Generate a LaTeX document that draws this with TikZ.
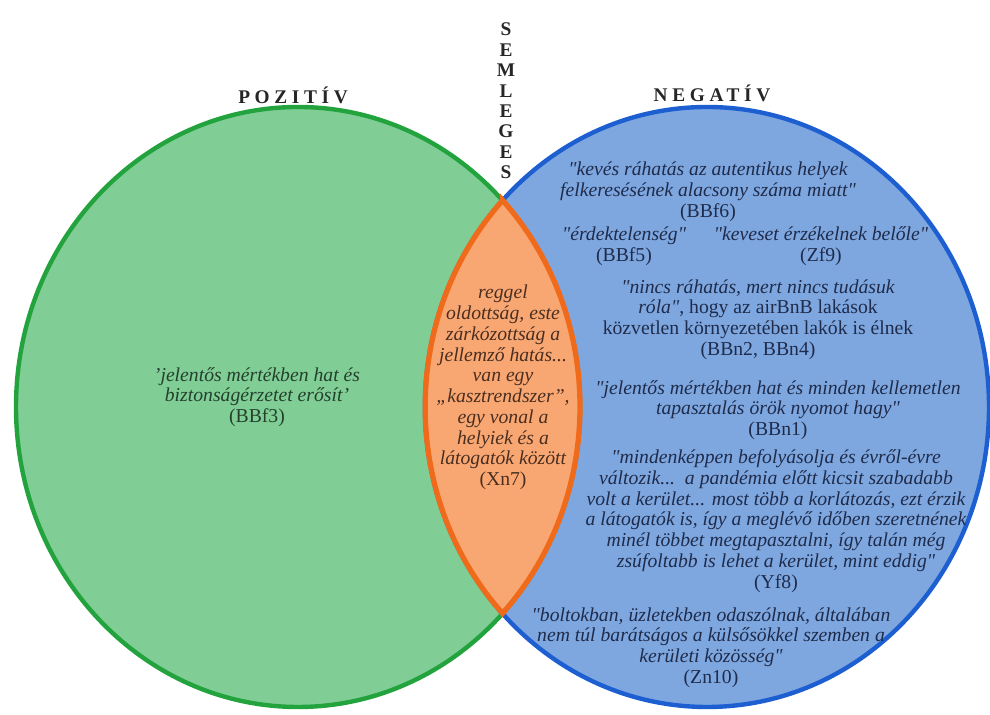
\documentclass[tikz,border=0pt]{standalone}
\usepackage{fontspec}
\setmainfont{Liberation Serif}
\newfontfamily\headfont[LetterSpace=24]{Liberation Serif}
\usetikzlibrary{positioning}

\definecolor{posfill}{HTML}{80CD95}
\definecolor{posline}{HTML}{22A33D}
\definecolor{negfill}{HTML}{7EA7E0}
\definecolor{negline}{HTML}{1D5FD1}
\definecolor{neufill}{HTML}{F9A772}
\definecolor{neuline}{HTML}{F06A1C}
\definecolor{postext}{HTML}{24402D}
\definecolor{negtext}{HTML}{1F2B4A}
\definecolor{neutext}{HTML}{4A2E20}

\newcommand{\qd}{\textquotedbl}

\begin{document}
\begin{tikzpicture}
    [quote/.style={align=center,font=\fontsize{11.2}{11.8}\selectfont\itshape},
     head/.style={font=\headfont\bfseries\fontsize{11}{11.6}\selectfont,text=black!85},
     oval/.style={x radius=5.64,y radius=6}]

    \useasboundingbox (0,0) rectangle (19.8,14.3);

    \coordinate (pos) at (5.96,6.16);
    \coordinate (neg) at (14.14,6.16);
    \coordinate (top) at (10.05,10.29);

    % the two sets
    \fill[posfill] (pos) ellipse [oval];
    \fill[negfill] (neg) ellipse [oval];
    \draw[posline,line width=2.5pt] (pos) ellipse [oval];
    \draw[negline,line width=2.5pt] (neg) ellipse [oval];

    % overlap
    \draw[neuline,fill=neufill,line width=3pt] (top)
        arc[start angle=136.52,end angle=223.48,oval]
        arc[start angle=-43.52,end angle=43.52,oval] -- cycle;

    \node[head] (pozitiv) at (5.86,12.4) {POZITÍV};
    \node[head] (negativ) at (14.24,12.44) {NEGATÍV};
    \node[head,align=center] (semleges) at (10.12,12.28) {S\\E\\M\\L\\E\\G\\E\\S};

    \node[quote,text=postext] (bbf3) at (5.14,6.36)
        {'jelentős mértékben hat és\\biztonságérzetet erősít'\\\textup{(BBf3)}};

    \node[quote,text=neutext] (xn7) at (10.06,6.55)
        {reggel\\oldottság, este\\zárkózottság a\\jellemző hatás...\\van egy\\„kasztrendszer”,\\egy vonal a\\helyiek és a\\látogatók között\\\textup{(Xn7)}};

    \node[quote,text=negtext] (bbf6) at (14.16,10.46)
        {\qd kevés ráhatás az autentikus helyek\\felkeresésének alacsony száma miatt\qd\\\textup{(BBf6)}};
    \node[quote,text=negtext] (bbf5) at (12.48,9.38)
        {\qd érdektelenség\qd\\\textup{(BBf5)}};
    \node[quote,text=negtext] (zf9) at (16.42,9.38)
        {\qd keveset érzékelnek belőle\qd\\\textup{(Zf9)}};
    \node[quote,text=negtext] (bbn2) at (15.16,7.91)
        {\qd nincs ráhatás, mert nincs tudásuk\\róla\qd\textup{, hogy az airBnB lakások}\\\textup{közvetlen környezetében lakók is élnek}\\\textup{(BBn2, BBn4)}};
    \node[quote,text=negtext] (bbn1) at (15.56,6.10)
        {\qd jelentős mértékben hat és minden kellemetlen\\tapasztalás örök nyomot hagy\qd\\\textup{(BBn1)}};
    \node[quote,text=negtext] (yf8) at (15.52,3.88)
        {\qd mindenképpen befolyásolja és évről-évre\\változik...\ \ a pandémia előtt kicsit szabadabb\\volt a kerület... most több a korlátozás, ezt érzik\\a látogatók is, így a meglévő időben szeretnének\\minél többet megtapasztalni, így talán még\\zsúfoltabb is lehet a kerület, mint eddig\qd\\\textup{(Yf8)}};
    \node[quote,text=negtext] (zn10) at (14.22,1.35)
        {\qd boltokban, üzletekben odaszólnak, általában\\nem túl barátságos a külsősökkel szemben a\\kerületi közösség\qd\\\textup{(Zn10)}};

\end{tikzpicture}
\end{document}
